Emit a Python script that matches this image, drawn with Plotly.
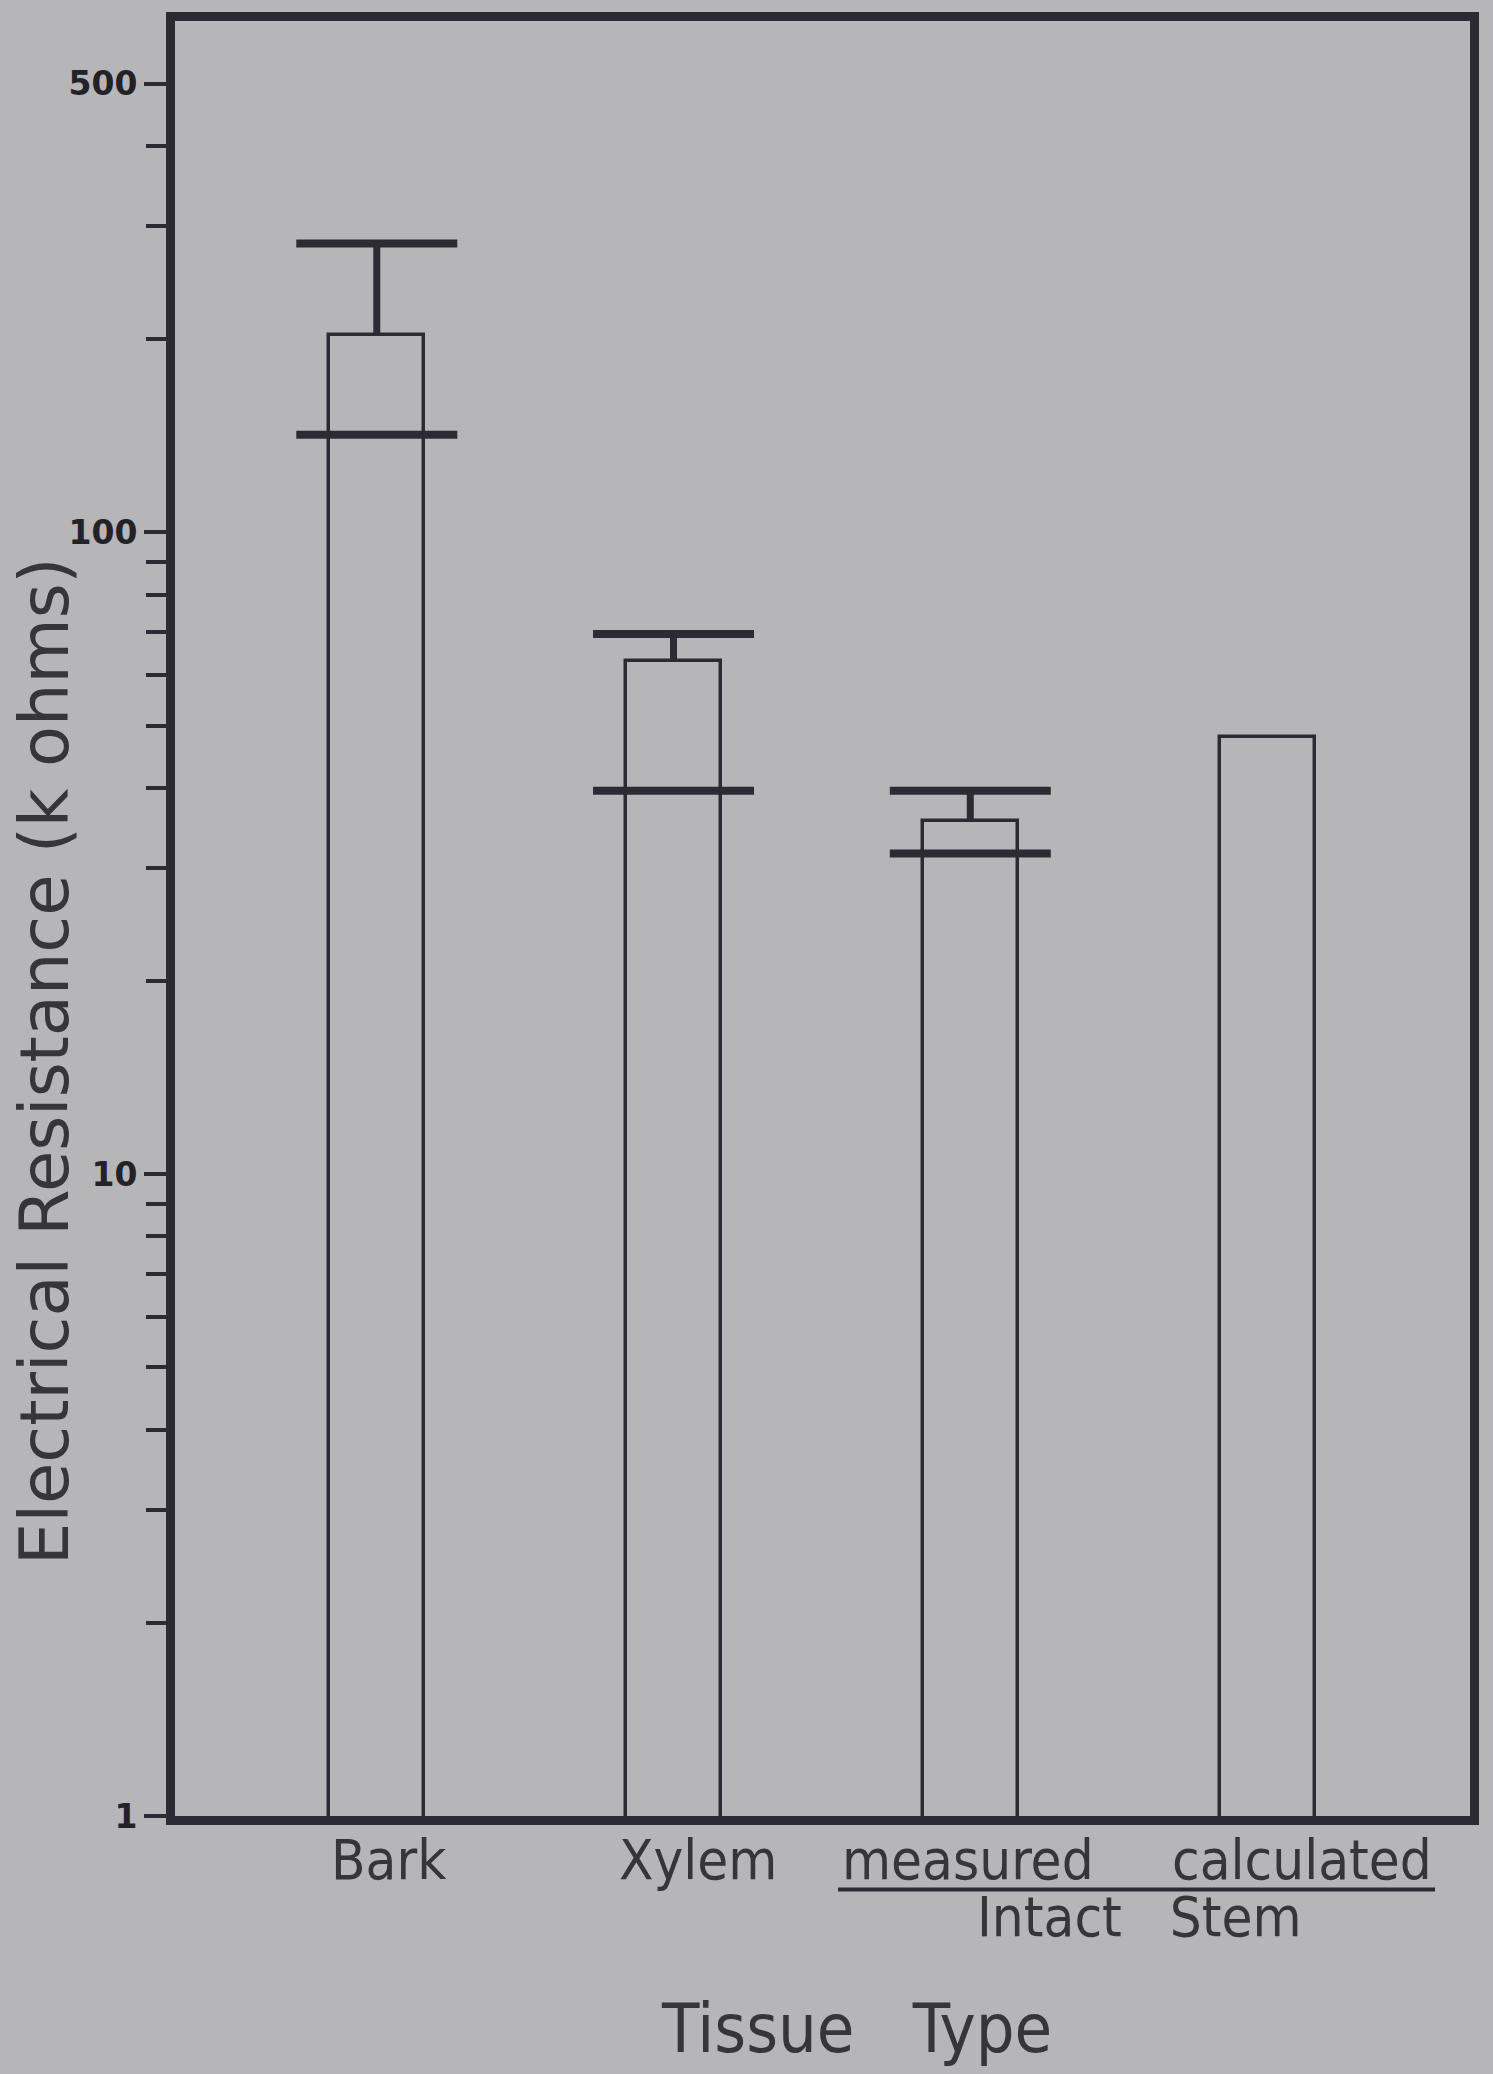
import plotly.graph_objects as go

# ---- data ----
categories = ["Bark", "Xylem", "measured", "calculated"]
resistance_kohm = [203, 63, 35.5, 48]          # bar heights
err_upper_kohm = [282, 69.5, 39.6, None]       # upper error cap
err_lower_kohm = [142, 39.6, 31.6, None]       # lower error cap

y_tickvals = [1, 10, 100, 500]
y_ticktext = ["1", "10", "100", "500"]
y_minor_tickvals = [2, 3, 4, 5, 6, 7, 8, 9,
                    20, 30, 40, 50, 60, 70, 80, 90,
                    200, 300, 400]

# ---- styling ----
BG = "#b6b6b8"
INK = "#2b2b33"
TXT = "#35353a"
COND = "DejaVu Sans Condensed, Liberation Sans Narrow, Liberation Sans, sans-serif"
label_xshift = [12, 24, -2, 35]
CAP_SIZE = 115   # line-ew marker: drawn width = 1.4 * size

xpos = list(range(len(categories)))

fig = go.Figure()

fig.add_trace(go.Bar(
    x=xpos, y=resistance_kohm, width=0.32,
    marker=dict(color=BG, line=dict(color=INK, width=3.5)),
    hoverinfo="skip", showlegend=False,
))

# upper caps + stem down to bar top
stem_minus = [(u - v) if u is not None else 0 for u, v in zip(err_upper_kohm, resistance_kohm)]
fig.add_trace(go.Scatter(
    x=xpos, y=err_upper_kohm, mode="markers",
    marker=dict(symbol="line-ew", size=CAP_SIZE, color=INK, line=dict(color=INK, width=8)),
    error_y=dict(type="data", symmetric=False, array=[0] * len(xpos),
                 arrayminus=stem_minus, width=0, thickness=7, color=INK),
    hoverinfo="skip", showlegend=False, cliponaxis=False,
))

# lower caps
fig.add_trace(go.Scatter(
    x=xpos, y=err_lower_kohm, mode="markers",
    marker=dict(symbol="line-ew", size=CAP_SIZE, color=INK, line=dict(color=INK, width=8)),
    hoverinfo="skip", showlegend=False, cliponaxis=False,
))

annotations = []
for i, cat in enumerate(categories):
    annotations.append(dict(
        x=xpos[i], xref="x", y=-0.0244, yref="paper", text=cat,
        showarrow=False, xshift=label_xshift[i], yanchor="middle", xanchor="center",
        font=dict(family=COND, size=56, color=TXT),
    ))
annotations.append(dict(
    x=0.745, xref="paper", y=-0.056, yref="paper", text="Intact\u00a0\u00a0\u00a0Stem",
    showarrow=False, yanchor="middle", xanchor="center",
    font=dict(family=COND, size=56, color=TXT),
))
annotations.append(dict(
    x=0.526, xref="paper", y=-0.1186, yref="paper", text="Tissue\u00a0\u00a0\u00a0Type",
    showarrow=False, yanchor="middle", xanchor="center",
    font=dict(family=COND, size=68, color=TXT),
))
annotations.append(dict(
    x=-0.1005, xref="paper", y=0.4206, yref="paper", text="Electrical Resistance (k ohms)",
    showarrow=False, textangle=-90, yanchor="middle", xanchor="center",
    font=dict(family="DejaVu Sans, sans-serif", size=67, color=TXT),
))

fig.update_layout(
    width=1493, height=2074, autosize=False,
    margin=dict(l=175, r=23, t=12, b=258),
    paper_bgcolor=BG, plot_bgcolor=BG,
    annotations=annotations,
    shapes=[dict(type="line", xref="paper", yref="paper",
                 x0=0.512, x1=0.973, y0=-0.041, y1=-0.041,
                 line=dict(color=INK, width=4))],
    bargap=0,
)

fig.update_xaxes(
    range=[-0.68, 3.684], showticklabels=False, ticks="",
    showline=True, mirror=True, linewidth=9, linecolor=INK,
    showgrid=False, zeroline=False,
)
fig.update_yaxes(
    type="log", range=[0, 2.797],
    tickmode="array", tickvals=y_tickvals, ticktext=y_ticktext,
    ticks="outside", ticklen=22, tickwidth=4, tickcolor=INK,
    tickfont=dict(family="DejaVu Sans, sans-serif", size=33, color="#222228", weight="bold"),
    showline=True, mirror=True, linewidth=9, linecolor=INK,
    showgrid=False, zeroline=False,
    minor=dict(tickmode="array", tickvals=y_minor_tickvals, ticks="outside",
               ticklen=20, tickwidth=4, tickcolor=INK, showgrid=False),
)

fig.write_html(
    "out.html",
    config={"displayModeBar": False},
    post_script="document.body.style.margin='0px';document.body.style.background='%s';" % BG,
)
